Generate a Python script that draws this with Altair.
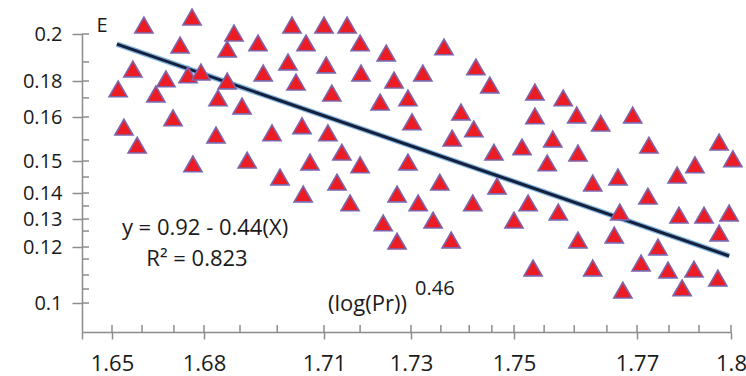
import altair as alt
import pandas as pd

# Scatter: E against X = (log(Pr))^0.46
x_vals = [
    1.6604, 1.6761, 1.6722, 1.6875, 1.6858, 1.6568, 1.6520, 1.6676, 1.6748, 1.6790,
    1.6858, 1.6643, 1.6835, 1.6895, 1.6699, 1.6539, 1.6582, 1.6830, 1.6764, 1.6908,
    1.7020, 1.7100, 1.7153, 1.6935, 1.7055, 1.7183, 1.7243, 1.7364, 1.7010, 1.7105,
    1.6948, 1.7030, 1.7185, 1.7261, 1.7323, 1.7426, 1.7453, 1.7118, 1.7229, 1.7293,
    1.7397, 1.7302, 1.7045, 1.6970, 1.7109, 1.7380, 1.7422, 1.7141, 1.7065, 1.7183,
    1.7293, 1.7461, 1.6990, 1.7130, 1.7356, 1.7048, 1.7268, 1.7467, 1.7534, 1.7580,
    1.7534, 1.7602, 1.7641, 1.7693, 1.7563, 1.7513, 1.7604, 1.7738, 1.7962, 1.8006,
    1.7554, 1.7628, 1.7669, 1.7828, 1.7885, 1.7735, 1.7160, 1.7314, 1.7420, 1.7236,
    1.7343, 1.7268, 1.7378, 1.7523, 1.7500, 1.7572, 1.7672, 1.7834, 1.7914, 1.7994,
    1.7962, 1.7604, 1.7663, 1.7767, 1.7531, 1.7628, 1.7713, 1.7799, 1.7882, 1.7958,
    1.7844, 1.7677,
]
e_vals = [
    0.2038, 0.2072, 0.1953, 0.2004, 0.1936, 0.1851, 0.1756, 0.1809, 0.1826, 0.1838,
    0.1800, 0.1728, 0.1706, 0.1661, 0.1598, 0.1577, 0.1536, 0.1559, 0.1491, 0.1502,
    0.2038, 0.2038, 0.2038, 0.1962, 0.1962, 0.1962, 0.1919, 0.1945, 0.1881, 0.1868,
    0.1834, 0.1794, 0.1834, 0.1804, 0.1834, 0.1860, 0.1778, 0.1733, 0.1683, 0.1706,
    0.1628, 0.1589, 0.1580, 0.1564, 0.1564, 0.1552, 0.1573, 0.1520, 0.1497, 0.1488,
    0.1497, 0.1520, 0.1450, 0.1434, 0.1434, 0.1396, 0.1396, 0.1422, 0.1739, 0.1706,
    0.1606, 0.1611, 0.1586, 0.1611, 0.1550, 0.1532, 0.1518, 0.1536, 0.1543, 0.1505,
    0.1494, 0.1431, 0.1450, 0.1456, 0.1488, 0.1388, 0.1362, 0.1362, 0.1362, 0.1286,
    0.1296, 0.1221, 0.1225, 0.1362, 0.1296, 0.1327, 0.1327, 0.1315, 0.1315, 0.1323,
    0.1250, 0.1225, 0.1243, 0.1200, 0.1125, 0.1125, 0.1143, 0.1118, 0.1121, 0.1089,
    0.1054, 0.1046,
]

# Fitted trend line end points
fit_x = [1.6516, 1.7994]
fit_e = [0.1957, 0.1168]

# Axis ticks
x_major = [1.64, 1.65, 1.68, 1.71, 1.73, 1.75, 1.77, 1.8]
x_minor = [1.6598, 1.6702, 1.689, 1.6983, 1.7183, 1.7358, 1.7413, 1.7457,
           1.7549, 1.7598, 1.7651, 1.7802, 1.7898]
y_major = [0.1, 0.12, 0.13, 0.14, 0.15, 0.16, 0.18, 0.2]
y_minor = [0.1881, 0.1706, 0.1548, 0.145, 0.135, 0.1257, 0.1157, 0.11, 0.105]

# Piecewise-linear axes: break values and their offsets along the axis
x_breaks = [1.64, 1.65, 1.68, 1.71, 1.73, 1.75, 1.77, 1.8]
x_break_px = [0, 30, 122, 242, 329, 432, 555, 649]
y_breaks = [0.09, 0.1, 0.12, 0.13, 0.14, 0.15, 0.16, 0.18, 0.2]
y_break_px = [298, 269, 213, 185, 159, 127, 83, 47, 0]

W, H = 649, 298
FONT = "Open Sans"
TEXT = "#1a1a1a"
AXIS = "#8c8c8c"

pts = pd.DataFrame({"x": x_vals, "e": e_vals})
fit = pd.DataFrame({"x": fit_x, "e": fit_e})
xt = pd.DataFrame({"x": x_major[1:] + x_minor})
yt = pd.DataFrame({"e": y_major + y_minor})

xscale = alt.Scale(domain=x_breaks, range=x_break_px, nice=False, zero=False)
yscale = alt.Scale(domain=y_breaks, range=y_break_px, nice=False, zero=False)

xaxis = alt.Axis(
    values=x_major, grid=False, tickSize=7, tickColor=AXIS, tickWidth=1.5,
    domainColor=AXIS, domainWidth=1.5,
    labelExpr="datum.value < 1.645 ? '' : format(datum.value, '.2~f')",
    labelFont=FONT, labelFontSize=22, labelColor=TEXT, labelPadding=14,
    labelFlush=False, labelOverlap=False,
    title="(log(Pr))", titleFont=FONT, titleFontSize=22, titleFontWeight="normal",
    titleColor=TEXT, titleX=285, titleY=-29, titleBaseline="middle",
    titleAlign="center",
)
yaxis = alt.Axis(
    values=y_major, grid=False, tickSize=10, tickColor=AXIS, tickWidth=1.5,
    domainColor=AXIS, domainWidth=1.5,
    labelExpr="format(datum.value, '.2~f')",
    labelFont=FONT, labelFontSize=20, labelColor=TEXT, labelPadding=10,
    labelFlush=False, labelOverlap=False,
    title="E", titleFont=FONT, titleFontSize=20, titleFontWeight="normal",
    titleColor=TEXT, titleAngle=0, titleX=14, titleY=-9,
    titleAlign="left", titleBaseline="middle",
)

X = alt.X("x:Q", scale=xscale, axis=xaxis)
Y = alt.Y("e:Q", scale=yscale, axis=yaxis)

points = alt.Chart(pts).mark_point(
    shape="triangle-up", filled=True, size=330, fill="#ec1c24",
    stroke="#7e64ab", strokeWidth=1.6, opacity=1,
).encode(x=X, y=Y)

glow = alt.Chart(fit).mark_line(color="#5b9bd5", strokeWidth=5.5, opacity=0.75).encode(x=X, y=Y)
trend = alt.Chart(fit).mark_line(color="#14213d", strokeWidth=3).encode(x=X, y=Y)

# inner half of the ticks (majors and minors) drawn inside the plot
x_inner = alt.Chart(xt).mark_rule(color=AXIS, strokeWidth=1.5).encode(
    x=X, y=alt.value(H - 7), y2=alt.value(H)
)
y_inner = alt.Chart(yt).mark_rule(color=AXIS, strokeWidth=1.5).encode(
    y=Y, x=alt.value(0), x2=alt.value(7)
)

one = alt.Data(values=[{"k": 0}])
eq = alt.Chart(one).mark_text(
    text="y = 0.92 - 0.44(X)", font=FONT, fontSize=22, color=TEXT,
    align="center", baseline="middle",
).encode(x=alt.value(123), y=alt.value(194))
r2 = alt.Chart(one).mark_text(
    text="R² = 0.823", font=FONT, fontSize=22, color=TEXT,
    align="center", baseline="middle",
).encode(x=alt.value(115), y=alt.value(225))
sup = alt.Chart(one).mark_text(
    text="0.46", font=FONT, fontSize=20, color=TEXT,
    align="left", baseline="middle",
).encode(x=alt.value(333), y=alt.value(255))

chart = alt.layer(
    x_inner, y_inner, glow, trend, points, eq, r2, sup
).properties(
    width=W, height=H,
    autosize=alt.AutoSizeParams(type="none"),
    padding={"left": 82, "top": 34, "right": 15, "bottom": 44},
    background="white",
).configure_view(stroke=None)

chart.save("out.html", embed_options={"renderer": "svg", "actions": False})
